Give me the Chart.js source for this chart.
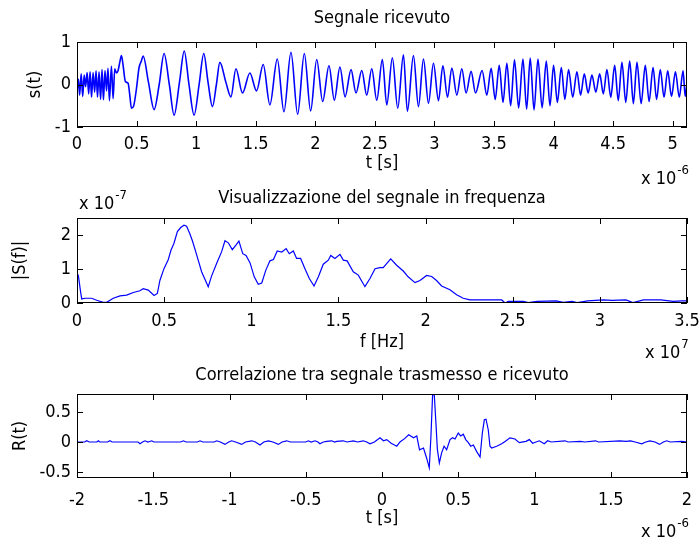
<!DOCTYPE html>
<html>
<head>
<meta charset="utf-8">
<title>Segnale ricevuto</title>
<script src="https://cdn.jsdelivr.net/npm/chart.js@4.4.0/dist/chart.umd.min.js"></script>
<style>
body { margin: 0; background: #fff; }
canvas { position: absolute; left: 0; }
</style>
</head>
<body>
<canvas id="sig" width="699" height="185" style="top:0px"></canvas>
<canvas id="spec" width="699" height="180" style="top:185px"></canvas>
<canvas id="corr" width="699" height="172" style="top:365px"></canvas>
<script>
const FONT = '"Liberation Sans Narrow", "Arial Narrow", "DejaVu Sans Condensed", sans-serif'

// segnale ricevuto, t in unita di 1e-6 s
const sigT = [0.000, 0.012, 0.022, 0.035, 0.048, 0.060, 0.072, 0.085, 0.098, 0.110, 0.122, 0.135, 0.148, 0.160, 0.172, 0.185,
  0.198, 0.210, 0.222, 0.235, 0.248, 0.260, 0.272, 0.289, 0.303, 0.317, 0.331, 0.345, 0.359, 0.373, 0.387, 0.406, 0.429,
  0.443, 0.457, 0.476, 0.499, 0.521, 0.540, 0.555, 0.600, 0.647, 0.690, 0.731, 0.775, 0.815, 0.860, 0.900, 0.940, 0.983,
  1.025, 1.064, 1.100, 1.137, 1.170, 1.199, 1.250, 1.292, 1.334, 1.389, 1.451, 1.507, 1.563, 1.619, 1.681, 1.737, 1.796,
  1.852, 1.908, 1.961, 2.012, 2.062, 2.115, 2.160, 2.207, 2.250, 2.300, 2.342, 2.390, 2.432, 2.474, 2.516, 2.563, 2.600,
  2.647, 2.692, 2.740, 2.773, 2.824, 2.866, 2.908, 2.950, 2.992, 3.034, 3.071, 3.110, 3.146, 3.188, 3.230, 3.266, 3.308,
  3.345, 3.400, 3.440, 3.476, 3.510, 3.544, 3.576, 3.608, 3.640, 3.672, 3.707, 3.743, 3.774, 3.804, 3.836, 3.869, 3.904,
  3.939, 3.970, 4.000, 4.032, 4.065, 4.095, 4.126, 4.161, 4.196, 4.227, 4.258, 4.290, 4.322, 4.355, 4.387, 4.418, 4.448,
  4.480, 4.513, 4.543, 4.574, 4.606, 4.639, 4.670, 4.700, 4.735, 4.770, 4.802, 4.835, 4.865, 4.896, 4.927, 4.958, 4.990,
  5.023, 5.055, 5.087, 5.105, 5.120]
const sigV = [-0.18, 0.12, -0.25, 0.25, -0.28, 0.22, -0.05, 0.28, -0.22, 0.30, -0.30, 0.28, -0.18, 0.32, -0.30, 0.30,
  -0.35, 0.35, -0.36, 0.33, -0.15, 0.38, -0.38, 0.43, -0.33, 0.37, 0.27, 0.33, 0.52, 0.68, 0.45, 0.07, 0.03,
  -0.25, -0.56, -0.50, -0.10, 0.40, 0.55, 0.67, 0.05, -0.59, 0.00, 0.73, 0.00, -0.72, 0.05, 0.79, 0.00, -0.72,
  0.00, 0.73, 0.05, -0.52, 0.00, 0.52, 0.05, -0.29, 0.37, -0.20, 0.27, -0.15, 0.47, -0.48, 0.60, -0.64, 0.76,
  -0.70, 0.73, -0.62, 0.59, -0.40, 0.44, -0.37, 0.41, -0.29, 0.35, -0.20, 0.33, -0.25, 0.37, -0.37, 0.59, -0.48,
  0.63, -0.56, 0.70, -0.63, 0.68, -0.52, 0.60, -0.44, 0.50, -0.38, 0.44, -0.30, 0.39, -0.25, 0.37, -0.20, 0.31,
  -0.20, 0.33, -0.25, 0.38, -0.35, 0.45, -0.42, 0.50, -0.50, 0.58, -0.55, 0.60, -0.58, 0.62, -0.60, 0.60, -0.55,
  0.55, -0.50, 0.45, -0.42, 0.40, -0.35, 0.35, -0.30, 0.30, -0.25, 0.25, -0.20, 0.22, -0.18, 0.25, -0.22, 0.35,
  -0.30, 0.45, -0.38, 0.52, -0.42, 0.55, -0.45, 0.52, -0.45, 0.45, -0.40, 0.40, -0.35, 0.35, -0.30, 0.32, -0.28,
  0.30, -0.30, 0.32, -0.28, 0.05]
const sigXTicks = [0, 0.5, 1, 1.5, 2, 2.5, 3, 3.5, 4, 4.5, 5]
const sigYTicks = [-1, 0, 1]

// spettro, f in unita di 1e7 Hz, |S(f)| in unita di 1e-7
const specF = [0.000, 0.008, 0.020, 0.027, 0.046, 0.084, 0.113, 0.151, 0.170, 0.208, 0.247, 0.285, 0.323, 0.361, 0.380,
  0.409, 0.442, 0.461, 0.476, 0.499, 0.524, 0.539, 0.556, 0.576, 0.595, 0.614, 0.629, 0.648, 0.664, 0.687, 0.715, 0.753,
  0.772, 0.801, 0.830, 0.849, 0.868, 0.891, 0.912, 0.929, 0.951, 0.970, 0.993, 1.017, 1.040, 1.060, 1.083, 1.107, 1.127,
  1.149, 1.175, 1.200, 1.218, 1.241, 1.260, 1.283, 1.308, 1.333, 1.360, 1.385, 1.413, 1.442, 1.456, 1.480, 1.509, 1.528,
  1.550, 1.585, 1.614, 1.652, 1.681, 1.710, 1.738, 1.757, 1.800, 1.834, 1.872, 1.900, 1.939, 1.968, 2.006, 2.035, 2.063,
  2.092, 2.140, 2.178, 2.216, 2.255, 2.437, 2.456, 2.475, 2.500, 2.560, 2.590, 2.640, 2.750, 2.790, 2.840, 2.870, 2.930,
  3.020, 3.070, 3.150, 3.190, 3.250, 3.350, 3.420, 3.470, 3.500]
const specS = [0.87, 0.80, 0.35, 0.12, 0.14, 0.14, 0.08, 0.02, 0.02, 0.14, 0.21, 0.23, 0.31, 0.36, 0.42,
  0.38, 0.22, 0.28, 0.67, 1.01, 1.28, 1.55, 1.75, 2.10, 2.22, 2.29, 2.26, 2.03, 1.80, 1.41, 0.92, 0.48,
  0.79, 1.16, 1.51, 1.83, 1.77, 1.57, 1.70, 1.82, 1.45, 1.40, 1.18, 0.77, 0.55, 0.59, 0.96, 1.24, 1.28,
  1.53, 1.50, 1.60, 1.45, 1.53, 1.31, 1.31, 1.01, 0.72, 0.50, 0.77, 1.14, 1.26, 1.40, 1.31, 1.43, 1.26,
  1.24, 0.92, 0.82, 0.48, 0.72, 1.01, 1.04, 1.04, 1.30, 1.11, 0.94, 0.77, 0.60, 0.66, 0.81, 0.78, 0.66,
  0.50, 0.39, 0.24, 0.14, 0.09, 0.09, 0.00, 0.05, 0.05, 0.05, 0.01, 0.05, 0.06, 0.02, 0.05, 0.01, 0.06,
  0.09, 0.08, 0.09, 0.01, 0.09, 0.09, 0.05, 0.06, 0.06]
const specXTicks = [0, 0.5, 1, 1.5, 2, 2.5, 3, 3.5]
const specYTicks = [0, 1, 2]

// correlazione, t in unita di 1e-6 s
const corrT = [-2.000, -1.950, -1.936, -1.920, -1.870, -1.860, -1.850, -1.800, -1.784, -1.770, -1.600, -1.587, -1.570,
  -1.554, -1.535, -1.510, -1.495, -1.320, -1.303, -1.285, -1.210, -1.193, -1.175, -1.100, -1.084, -1.060, -1.030, -1.005,
  -0.986, -0.960, -0.920, -0.895, -0.854, -0.830, -0.800, -0.775, -0.745, -0.715, -0.680, -0.655, -0.625, -0.600, -0.500,
  -0.483, -0.465, -0.439, -0.420, -0.407, -0.385, -0.363, -0.330, -0.310, -0.297, -0.254, -0.230, -0.188, -0.160, -0.123,
  -0.100, -0.079, -0.050, -0.013, 0.010, 0.031, 0.060, 0.097, 0.118, 0.150, 0.175, 0.207, 0.228, 0.246, 0.272, 0.293,
  0.310, 0.321, 0.332, 0.343, 0.354, 0.363, 0.376, 0.391, 0.407, 0.424, 0.446, 0.463, 0.479, 0.500, 0.516, 0.533, 0.549,
  0.566, 0.582, 0.599, 0.621, 0.643, 0.658, 0.671, 0.682, 0.697, 0.708, 0.719, 0.752, 0.785, 0.807, 0.839, 0.872, 0.900,
  0.944, 0.966, 0.988, 1.031, 1.064, 1.086, 1.110, 1.200, 1.220, 1.300, 1.330, 1.400, 1.420, 1.560, 1.600, 1.630, 1.660,
  1.703, 1.730, 1.757, 1.790, 1.820, 1.845, 1.867, 1.890, 1.965, 2.000]
const corrR = [0, 0, 0.02, 0, 0, 0.02, 0, 0, 0.02, 0, 0, -0.03, 0,
  0.02, 0, 0.02, 0, 0, 0.02, 0, 0, 0.02, 0, 0, 0.02, 0, -0.04, 0,
  0.02, 0, -0.04, 0, 0.02, 0, -0.05, 0, 0.02, 0, -0.04, 0, 0.02, 0, 0,
  0.02, 0, 0.02, 0, -0.03, 0, 0.01, 0.02, 0, 0.01, 0.02, 0, 0.02, 0, 0.02,
  0, -0.03, 0, 0.07, 0.02, 0.04, -0.02, -0.07, 0.00, 0.06, 0.12, 0.07, 0.10, -0.13, -0.10, -0.27,
  -0.43, 0.10, 0.80, 0.78, 0.30, -0.12, -0.35, -0.18, -0.07, -0.13, 0.04, 0.07, 0.05, 0.15, 0.10, 0.13, 0.04,
  -0.01, -0.07, -0.05, -0.16, -0.25, 0.15, 0.37, 0.38, 0.20, -0.07, -0.10, -0.07, -0.03, 0.01, 0.07, 0.05, -0.01,
  0.01, 0.04, -0.02, 0.02, -0.03, 0.02, 0, 0.02, 0, 0.01, 0, 0.02, 0, 0.02, 0.01, 0.02, 0,
  -0.03, 0, 0.02, 0, -0.04, 0, 0.02, 0, 0.01, 0]
const corrXTicks = [-2, -1.5, -1, -0.5, 0, 0.5, 1, 1.5, 2]
const corrYTicks = [-0.5, 0, 0.5]

const font = { family: FONT, size: 18 }

// box nero + tacche verso l'interno, titolo e moltiplicatori "x 10^n"
const matlabAxes = {
  id: 'matlabAxes',
  afterDraw(chart, args, opts) {
    const ctx = chart.ctx
    const a = chart.chartArea
    const sx = chart.scales.x
    const sy = chart.scales.y
    ctx.save()
    ctx.strokeStyle = '#000'
    ctx.lineWidth = 1
    ctx.strokeRect(a.left + 0.5, a.top + 0.5, a.right - a.left - 1, a.bottom - a.top - 1)
    ctx.beginPath()
    sx.ticks.forEach(t => {
      const px = Math.round(sx.getPixelForValue(t.value)) + 0.5
      ctx.moveTo(px, a.bottom)
      ctx.lineTo(px, a.bottom - 6)
      ctx.moveTo(px, a.top)
      ctx.lineTo(px, a.top + 6)
    })
    sy.ticks.forEach(t => {
      const py = Math.round(sy.getPixelForValue(t.value)) + 0.5
      ctx.moveTo(a.left, py)
      ctx.lineTo(a.left + 6, py)
      ctx.moveTo(a.right, py)
      ctx.lineTo(a.right - 6, py)
    })
    ctx.stroke()

    ctx.fillStyle = '#000'
    ctx.font = '18px ' + FONT
    ctx.textAlign = 'center'
    ctx.textBaseline = 'middle'
    ctx.fillText(opts.title, (a.left + a.right) / 2, opts.titleY)

    ctx.textAlign = 'left'
    opts.notes.forEach(n => {
      ctx.font = '18px ' + FONT
      ctx.fillText(n.base, n.x, n.y)
      const w = ctx.measureText(n.base).width
      ctx.font = '13px ' + FONT
      ctx.fillText(n.exp, n.x + w + 1, n.y - 8)
    })
    ctx.restore()
  }
}

function fmt(v) {
  return String(Math.round(v * 10) / 10)
}

function makeChart(id, cfg) {
  const points = cfg.xs.map((x, i) => ({ x: x, y: cfg.ys[i] }))
  return new Chart(document.getElementById(id), {
    type: 'line',
    data: {
      datasets: [{
        data: points,
        borderColor: '#0000ff',
        borderWidth: cfg.lineWidth,
        pointRadius: 0,
        fill: false,
        cubicInterpolationMode: cfg.smooth ? 'monotone' : 'default'
      }]
    },
    options: {
      responsive: false,
      animation: false,
      layout: { padding: { top: cfg.areaTop, right: 12, bottom: 0, left: 0 } },
      plugins: {
        legend: { display: false },
        tooltip: { enabled: false },
        matlabAxes: { title: cfg.title, titleY: cfg.titleY, notes: cfg.notes }
      },
      scales: {
        x: {
          type: 'linear',
          min: cfg.xMin,
          max: cfg.xMax,
          grid: { display: false, drawTicks: false },
          border: { display: false },
          afterBuildTicks: s => { s.ticks = cfg.xTicks.map(v => ({ value: v })) },
          afterFit: s => {
            s.height = cfg.xHeight
            s.paddingLeft = 0
            s.paddingRight = 0
          },
          ticks: { font: font, color: '#000', padding: cfg.xTickPad, maxRotation: 0, autoSkip: false, callback: fmt },
          title: { display: true, text: cfg.xTitle, font: font, color: '#000', padding: { top: 0, bottom: cfg.xTitlePad } }
        },
        y: {
          type: 'linear',
          min: cfg.yMin,
          max: cfg.yMax,
          grid: { display: false, drawTicks: false },
          border: { display: false },
          afterBuildTicks: s => { s.ticks = cfg.yTicks.map(v => ({ value: v })) },
          afterFit: s => {
            s.width = 77
            s.paddingTop = 0
            s.paddingBottom = 0
          },
          ticks: { font: font, color: '#000', padding: 6, autoSkip: false, callback: fmt },
          title: { display: true, text: cfg.yTitle, font: font, color: '#000', padding: { top: cfg.yTitlePad, bottom: 0 } }
        }
      }
    },
    plugins: [matlabAxes]
  })
}

makeChart('sig', {
  xs: sigT, ys: sigV, smooth: true, lineWidth: 1.6,
  xMin: 0, xMax: 5.12, yMin: -1, yMax: 1, xTicks: sigXTicks, yTicks: sigYTicks,
  areaTop: 42, xHeight: 58, xTickPad: 7, xTitlePad: 11, yTitlePad: 25,
  xTitle: 't [s]', yTitle: 's(t)',
  title: 'Segnale ricevuto', titleY: 18,
  notes: [{ x: 641, y: 179, base: 'x 10', exp: '-6' }]
})

makeChart('spec', {
  xs: specF, ys: specS, smooth: false, lineWidth: 1.2,
  xMin: 0, xMax: 3.5, yMin: 0, yMax: 2.5, xTicks: specXTicks, yTicks: specYTicks,
  areaTop: 33, xHeight: 62, xTickPad: 8, xTitlePad: 12, yTitlePad: 10,
  xTitle: 'f [Hz]', yTitle: '|S(f)|',
  title: 'Visualizzazione del segnale in frequenza', titleY: 13,
  notes: [{ x: 79, y: 19, base: 'x 10', exp: '-7' }, { x: 645, y: 168, base: 'x 10', exp: '7' }]
})

makeChart('corr', {
  xs: corrT, ys: corrR, smooth: false, lineWidth: 1.2,
  xMin: -2, xMax: 2, yMin: -0.6, yMax: 0.8, xTicks: corrXTicks, yTicks: corrYTicks,
  areaTop: 29, xHeight: 59, xTickPad: 12, xTitlePad: 8, yTitlePad: 10,
  xTitle: 't [s]', yTitle: 'R(t)',
  title: 'Correlazione tra segnale trasmesso e ricevuto', titleY: 10,
  notes: [{ x: 641, y: 167, base: 'x 10', exp: '-6' }]
})
</script>
</body>
</html>
